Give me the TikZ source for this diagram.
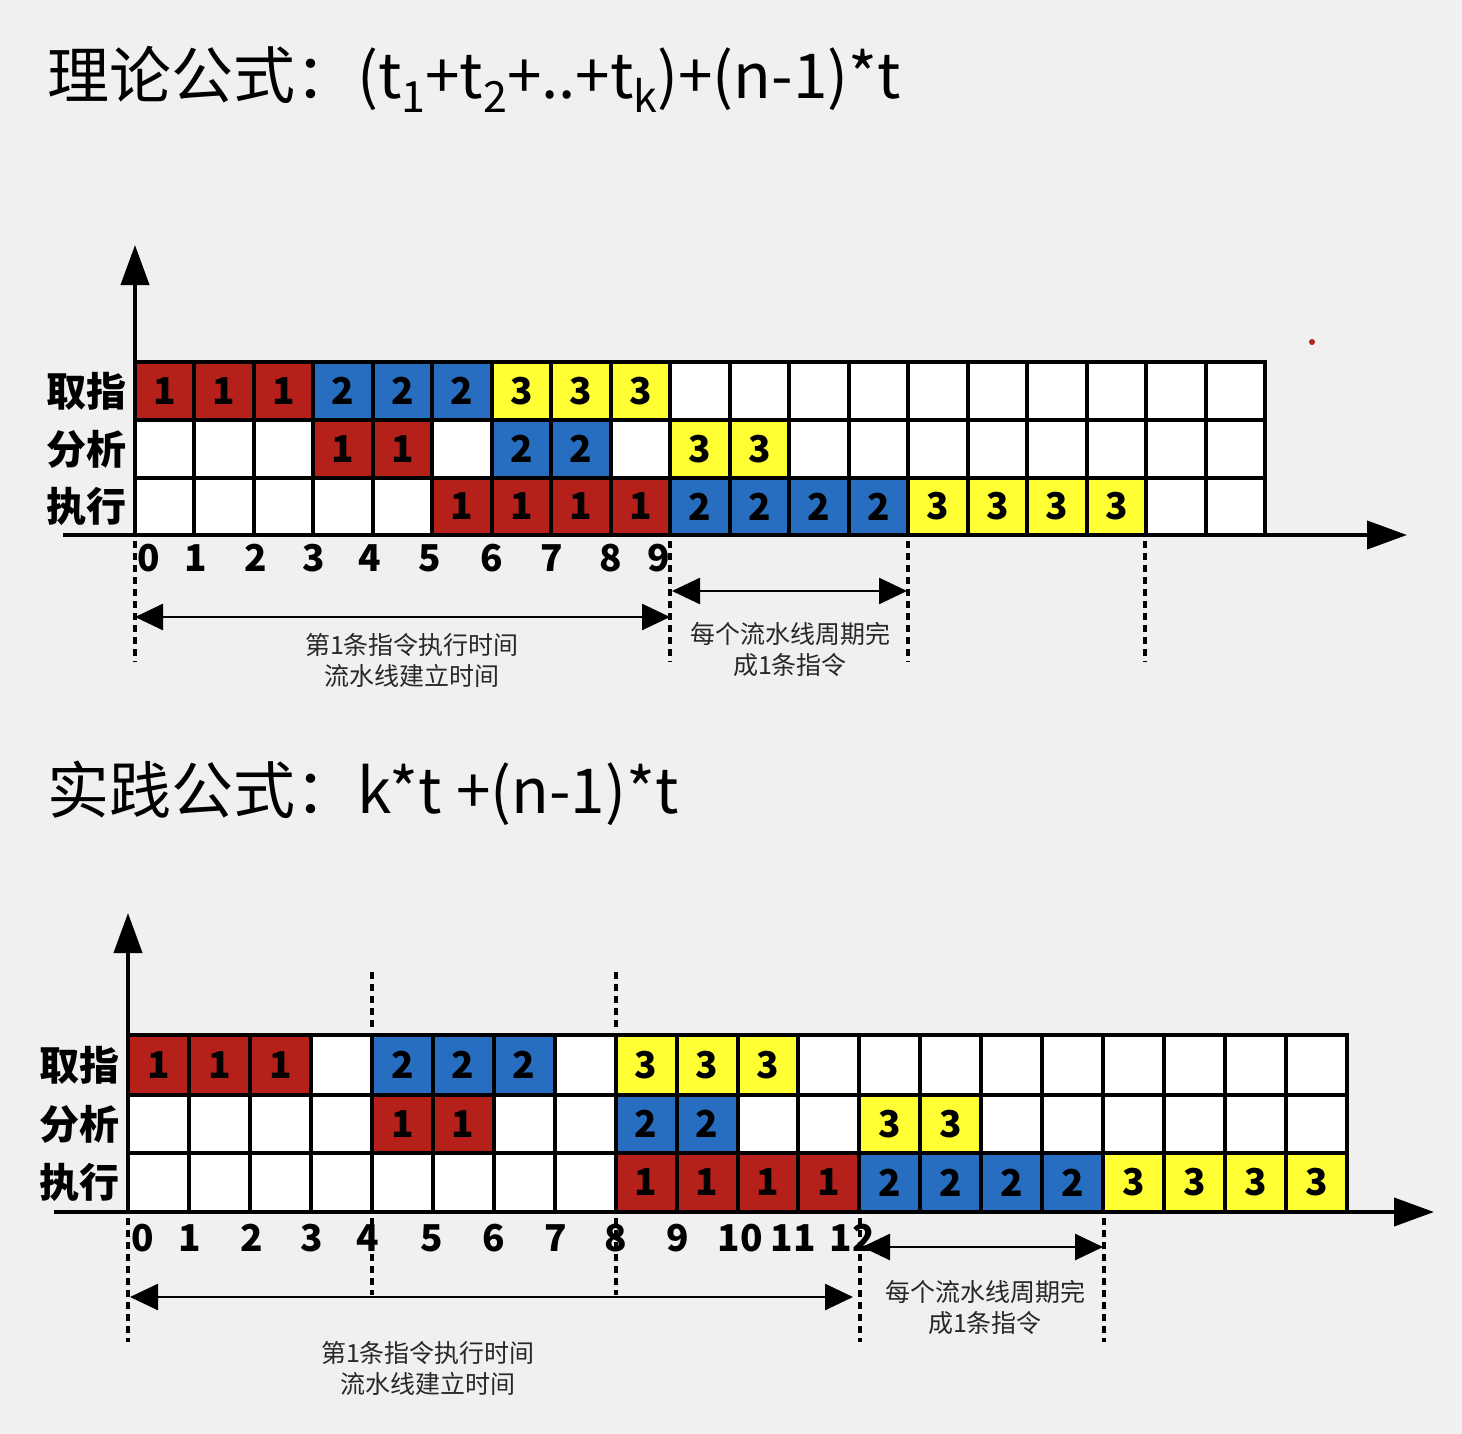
\documentclass[tikz,border=0pt]{standalone}
\usepackage{fontspec}
\setmainfont{Noto Sans CJK SC}
\usetikzlibrary{arrows.meta}
\definecolor{bg}{RGB}{240,240,240}
\definecolor{cr}{RGB}{181,32,26}
\definecolor{cb}{RGB}{40,110,192}
\definecolor{cy}{RGB}{255,255,51}
\definecolor{note}{RGB}{40,40,40}
\newcommand\sbx[1]{\raisebox{-0.21em}{\fontsize{43}{43}\selectfont #1}}
\tikzset{
  gridline/.style={line width=4pt, line cap=rect},
  axisline/.style={line width=4pt, -{Triangle[length=40pt,width=28pt]}},
  dimline/.style={line width=2.6pt, {Triangle[length=28pt,width=26pt]}-{Triangle[length=28pt,width=26pt]}},
  guide/.style={line width=3.2pt, dash pattern=on 7pt off 5pt},
  titletext/.style={anchor=base west, inner sep=0, font=\fontsize{62}{62}\selectfont},
  rowlabel/.style={anchor=east, inner sep=0, font=\fontsize{40}{40}\selectfont\bfseries},
  ticklabel/.style={inner sep=0, font=\fontsize{37}{37}\selectfont\bfseries},
  notetext/.style={inner sep=0, align=center, text=note, font=\fontsize{25}{31}\selectfont},
  cellA/.style={minimum width=59.47pt, minimum height=57.7pt, inner sep=0, font=\fontsize{37}{37}\selectfont\bfseries},
  cellB/.style={minimum width=60.95pt, minimum height=59pt, inner sep=0, font=\fontsize{37}{37}\selectfont\bfseries},
}
\begin{document}
\begin{tikzpicture}[x=1pt,y=-1pt]
\fill[bg] (0,0) rectangle (1462,1434);
\useasboundingbox (0,0) rectangle (1462,1434);

% ---------- titles ----------
\node[titletext] (title1) at (47,99) {理论公式：(t\sbx{1}+t\sbx{2}+..+t\sbx{k})+(n-1)*t};
\node[titletext] (title2) at (47,813) {实践公式：k*t +(n-1)*t};

% ---------- top diagram ----------
\fill[white] (135,362) rectangle (1265,535);
\foreach \c/\col/\n in {0/cr/1,1/cr/1,2/cr/1,3/cb/2,4/cb/2,5/cb/2,6/cy/3,7/cy/3,8/cy/3}
  \node[cellA, fill=\col] (TA\c) at ({135+(\c+0.5)*59.474},391) {\n};
\foreach \c/\col/\n in {3/cr/1,4/cr/1,6/cb/2,7/cb/2,9/cy/3,10/cy/3}
  \node[cellA, fill=\col] (TB\c) at ({135+(\c+0.5)*59.474},449) {\n};
\foreach \c/\col/\n in {5/cr/1,6/cr/1,7/cr/1,8/cr/1,9/cb/2,10/cb/2,11/cb/2,12/cb/2,13/cy/3,14/cy/3,15/cy/3,16/cy/3}
  \node[cellA, fill=\col] (TC\c) at ({135+(\c+0.5)*59.474},506.5) {\n};
\foreach \i in {0,...,19}
  \draw[gridline] ({135+\i*59.474},362) -- ({135+\i*59.474},535);
\foreach \y in {362,420,478}
  \draw[gridline] (135,\y) -- (1265,\y);

\coordinate (TO) at (135,537);
\coordinate (TYtop) at (135,245);
\coordinate (TXl) at (63,535);
\coordinate (TXr) at (1407,535);
\draw[axisline] (TO) -- (TYtop);
\draw[axisline] (TXl) -- (TXr);

\node[rowlabel] (TL1) at (127,391) {取指};
\node[rowlabel] (TL2) at (127,449) {分析};
\node[rowlabel] (TL3) at (127,506.5) {执行};

\foreach \x/\t in {149/0,196/1,256/2,314/3,370/4,430/5,492/6,552/7,611/8,659/9}
  \node[ticklabel] (TT\t) at (\x,558) {\t};

\foreach \x/\k in {135/a,670/b,908/c,1145/d} {
  \coordinate (TG\k1) at (\x,541);
  \coordinate (TG\k2) at (\x,662);
  \draw[guide] (TG\k1) -- (TG\k2);
}
\coordinate (TD1a) at (135,617);
\coordinate (TD1b) at (670,617);
\draw[dimline] (TD1a) -- (TD1b);
\coordinate (TD2a) at (672,591);
\coordinate (TD2b) at (907,591);
\draw[dimline] (TD2a) -- (TD2b);
\node[notetext] (TN1) at (412,660) {第1条指令执行时间\\流水线建立时间};
\node[notetext] (TN2) at (790,649) {每个流水线周期完\\成1条指令};

\fill[cr] (1312,342) circle (3);

% ---------- bottom diagram ----------
\fill[white] (128,1035) rectangle (1347,1212);
\foreach \c/\col/\n in {0/cr/1,1/cr/1,2/cr/1,4/cb/2,5/cb/2,6/cb/2,8/cy/3,9/cy/3,10/cy/3}
  \node[cellB, fill=\col] (BA\c) at ({128+(\c+0.5)*60.95},1065) {\n};
\foreach \c/\col/\n in {4/cr/1,5/cr/1,8/cb/2,9/cb/2,12/cy/3,13/cy/3}
  \node[cellB, fill=\col] (BB\c) at ({128+(\c+0.5)*60.95},1124) {\n};
\foreach \c/\col/\n in {8/cr/1,9/cr/1,10/cr/1,11/cr/1,12/cb/2,13/cb/2,14/cb/2,15/cb/2,16/cy/3,17/cy/3,18/cy/3,19/cy/3}
  \node[cellB, fill=\col] (BC\c) at ({128+(\c+0.5)*60.95},1182.5) {\n};
\foreach \i in {0,...,20}
  \draw[gridline] ({128+\i*60.95},1035) -- ({128+\i*60.95},1212);
\foreach \y in {1035,1095,1153}
  \draw[gridline] (128,\y) -- (1347,\y);

\coordinate (BO) at (128,1214);
\coordinate (BYtop) at (128,913);
\coordinate (BXl) at (54,1212);
\coordinate (BXr) at (1434,1212);
\draw[axisline] (BO) -- (BYtop);
\draw[axisline] (BXl) -- (BXr);

\node[rowlabel] (BL1) at (120,1065) {取指};
\node[rowlabel] (BL2) at (120,1124) {分析};
\node[rowlabel] (BL3) at (120,1182.5) {执行};

\foreach \x/\t in {143/0,190/1,252/2,312/3,368/4,432/5,494/6,556/7,616/8,678/9,740/10,793/11,852/12}
  \node[ticklabel] (BT\t) at (\x,1238) {\t};

\foreach \x/\k in {372/a,616/b} {
  \coordinate (BU\k1) at (\x,972);
  \coordinate (BU\k2) at (\x,1030);
  \draw[guide] (BU\k1) -- (BU\k2);
  \coordinate (BV\k1) at (\x,1218);
  \coordinate (BV\k2) at (\x,1295);
  \draw[guide] (BV\k1) -- (BV\k2);
}
\foreach \x/\k in {128/c,860/d,1104/e} {
  \coordinate (BV\k1) at (\x,1218);
  \coordinate (BV\k2) at (\x,1342);
  \draw[guide] (BV\k1) -- (BV\k2);
}
\coordinate (BD1a) at (130,1297);
\coordinate (BD1b) at (853,1297);
\draw[dimline] (BD1a) -- (BD1b);
\coordinate (BD2a) at (862,1247);
\coordinate (BD2b) at (1103,1247);
\draw[dimline] (BD2a) -- (BD2b);
\node[notetext] (BN1) at (428,1368) {第1条指令执行时间\\流水线建立时间};
\node[notetext] (BN2) at (985,1307) {每个流水线周期完\\成1条指令};
\end{tikzpicture}
\end{document}
